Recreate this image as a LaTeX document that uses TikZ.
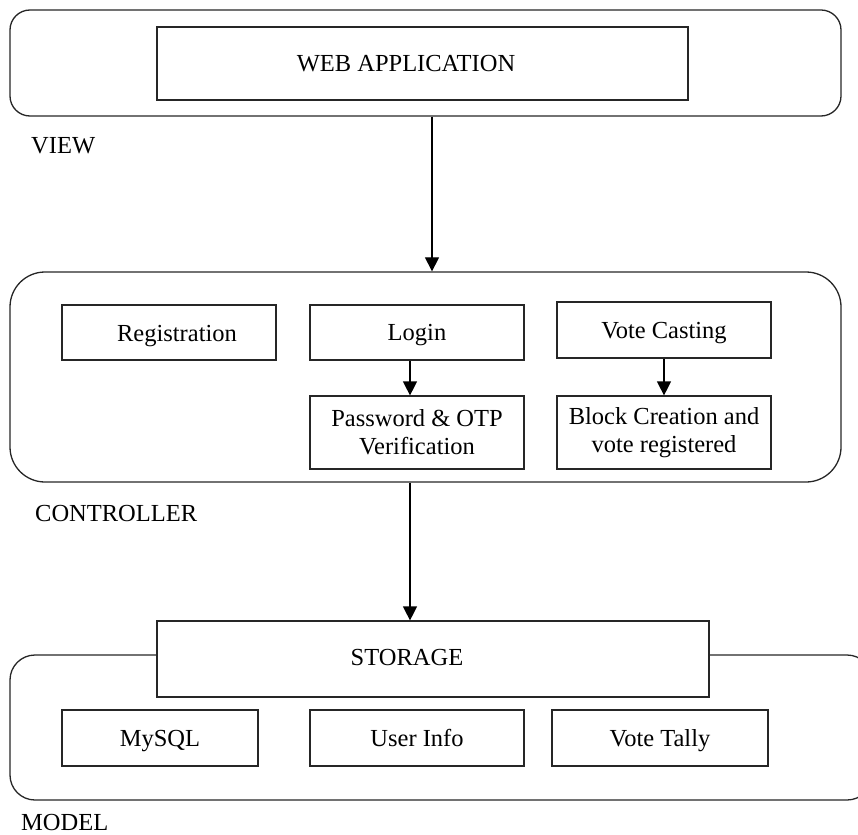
\documentclass[tikz,border=0pt]{standalone}
\usepackage{fontspec}
\setmainfont{Liberation Serif}
\usetikzlibrary{arrows.meta}
\begin{document}
\begin{tikzpicture}[x=1pt,y=-1pt,
  font=\fontsize{24.5}{28}\selectfont,
  outer/.style={draw=black!85,line width=1.3pt,inner sep=0pt},
  box/.style={draw=black!85,line width=1.2pt,fill=white,inner sep=0pt,align=center},
  one/.style={text height=16.2pt,text depth=0pt},
  lbl/.style={inner sep=0pt,anchor=west,text height=16.2pt,text depth=0pt},
  arr/.style={line width=1.2pt,-{Triangle[width=14pt,length=14pt]}}]
\useasboundingbox (0,0) rectangle (858,834);
\clip (0,0) rectangle (858,834);
% VIEW
\node[outer,rounded corners=20pt,minimum width=831pt,minimum height=106pt] (view) at (425.5,63) {};
\node[box,minimum width=531pt,minimum height=73pt] (web) at (422.5,63.5) {};
\node[inner sep=0pt,one] (webtxt) at (406,63) {WEB APPLICATION};
\node[lbl] (viewlbl) at (31,145) {VIEW};
% CONTROLLER
\node[outer,rounded corners=35pt,minimum width=831pt,minimum height=210pt] (ctrl) at (425.5,377) {};
\node[box,minimum width=214pt,minimum height=55pt] (reg) at (169,332.5) {};
\node[inner sep=0pt,one] (regtxt) at (177,333.5) {Registration};
\node[box,one,minimum width=214pt,minimum height=55pt] (login) at (417,332.5) {Login};
\node[box,minimum width=214pt,minimum height=73pt] (pass) at (417,432.5) {Password \& OTP\\Verification};
\node[box,one,minimum width=214pt,minimum height=56pt] (vote) at (664,330) {Vote Casting};
\node[box,minimum width=214pt,minimum height=73pt] (block) at (664,432.5) {Block Creation and\\vote registered};
\node[lbl] (ctrllbl) at (35,513) {CONTROLLER};
% MODEL
\node[outer,rounded corners=25pt,minimum width=862pt,minimum height=145pt] (model) at (441,727.5) {};
\node[box,minimum width=552pt,minimum height=76pt] (storage) at (433,659) {};
\node[inner sep=0pt,one] (storagetxt) at (407,657) {STORAGE};
\node[box,one,minimum width=196pt,minimum height=56pt] (mysql) at (160,738) {MySQL};
\node[box,one,minimum width=214pt,minimum height=56pt] (user) at (417,738) {User Info};
\node[box,one,minimum width=216pt,minimum height=56pt] (tally) at (660,738) {Vote Tally};
\node[lbl] (modellbl) at (21,822) {MODEL};
% arrows
\coordinate (ax1) at (432,0);
\coordinate (ax2) at (410,0);
\draw[arr] (view.south -| ax1) -- (ctrl.north -| ax1);
\draw[arr] (ctrl.south -| ax2) -- (storage.north -| ax2);
\draw[arr] (login.south -| ax2) -- (pass.north -| ax2);
\draw[arr] (vote) -- (block);
\end{tikzpicture}
\end{document}
